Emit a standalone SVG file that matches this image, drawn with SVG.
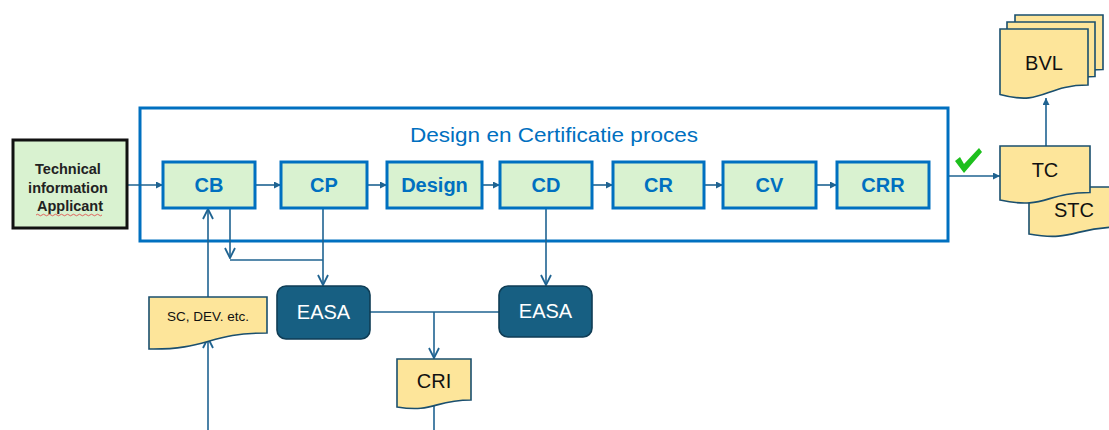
<svg xmlns="http://www.w3.org/2000/svg" width="1109" height="430" viewBox="0 0 1109 430">
<style>
.step{fill:#d9f2d0;stroke:#0070c0;stroke-width:3}
.steptxt{font-family:"Liberation Sans",Arial,sans-serif;font-weight:bold;font-size:20px;fill:#0070c0;text-anchor:middle}
.doc{fill:#fde59a;stroke:#1a4f6e;stroke-width:1.6}
.doctxt{font-family:"Liberation Sans",Arial,sans-serif;font-size:20px;fill:#111;text-anchor:middle}
.easa{fill:#175f82;stroke:#0f3d55;stroke-width:1.6}
.easatxt{font-family:"Liberation Sans",Arial,sans-serif;font-size:20px;fill:#fff;text-anchor:middle}
.ln{fill:none;stroke:#1f6391;stroke-width:1.6}
.fl{marker-end:url(#tri)}
.op{marker-end:url(#chev)}
</style>
<defs>
<marker id="tri" viewBox="0 0 10 10" refX="10" refY="5" markerWidth="7" markerHeight="7" markerUnits="userSpaceOnUse" orient="auto">
<path d="M0,0 L10,5 L0,10 Z" fill="#1f6391"/>
</marker>
<marker id="chev" viewBox="0 0 12 12" refX="11" refY="6" markerWidth="12" markerHeight="12" markerUnits="userSpaceOnUse" orient="auto">
<path d="M1,1 L11,6 L1,11" fill="none" stroke="#1f6391" stroke-width="1.8"/>
</marker>
</defs>
<rect width="1109" height="430" fill="#fff"/>

<g id="frame">
<rect x="140" y="108" width="808" height="133" fill="none" stroke="#0070c0" stroke-width="3"/>
<text x="554" y="142" font-family="Liberation Sans, Arial, sans-serif" font-size="21" fill="#0070c0" text-anchor="middle" textLength="288" lengthAdjust="spacingAndGlyphs">Design en Certificatie proces</text>
</g>

<g id="connectors">
<line class="ln fl" x1="128" y1="185" x2="163" y2="185"/>
<line class="ln fl" x1="255" y1="185" x2="281" y2="185"/>
<line class="ln fl" x1="367" y1="185" x2="387" y2="185"/>
<line class="ln fl" x1="482" y1="185" x2="500" y2="185"/>
<line class="ln fl" x1="592" y1="185" x2="613" y2="185"/>
<line class="ln fl" x1="704" y1="185" x2="723" y2="185"/>
<line class="ln fl" x1="816" y1="185" x2="837" y2="185"/>
<line class="ln fl" x1="949" y1="176" x2="1000" y2="176"/>
<line class="ln fl" x1="1046" y1="146" x2="1046" y2="98"/>
<line class="ln op" x1="208" y1="297" x2="208" y2="209"/>
<line class="ln op" x1="230" y1="208" x2="230" y2="258"/>
<line class="ln" x1="230" y1="260" x2="323" y2="260"/>
<line class="ln op" x1="323" y1="208" x2="323" y2="285"/>
<line class="ln op" x1="546" y1="208" x2="546" y2="285"/>
<line class="ln" x1="370" y1="312" x2="499" y2="312"/>
<line class="ln op" x1="434" y1="312" x2="434" y2="358"/>
<line class="ln" x1="434" y1="404" x2="434" y2="430"/>
<line class="ln op" x1="208" y1="430" x2="208" y2="338"/>
</g>

<g id="technical">
<rect x="13" y="140" width="114" height="88" fill="#d9f2d0" stroke="#111" stroke-width="3"/>
<text font-family="Liberation Sans, Arial, sans-serif" font-weight="bold" font-size="14.5" fill="#222" text-anchor="middle">
<tspan x="70" y="174">Technical</tspan>
<tspan x="70" y="193">information</tspan>
<tspan x="70" y="211">Applicant</tspan>
</text>
<path d="M36,215 q1.5,-1.5 3,0 t3,0 t3,0 t3,0 t3,0 t3,0 t3,0 t3,0 t3,0 t3,0 t3,0 t3,0 t3,0 t3,0 t3,0 t3,0 t3,0 t3,0 t3,0 t3,0 t3,0 t3,0" fill="none" stroke="#e04040" stroke-width="0.8"/>
</g>

<g id="CB"><rect class="step" x="163" y="162" width="92" height="46"/><text class="steptxt" x="209" y="192">CB</text></g>
<g id="CP"><rect class="step" x="281" y="162" width="86" height="46"/><text class="steptxt" x="324" y="192">CP</text></g>
<g id="Design"><rect class="step" x="387" y="162" width="95" height="46"/><text class="steptxt" x="434.5" y="192">Design</text></g>
<g id="CD"><rect class="step" x="500" y="162" width="92" height="46"/><text class="steptxt" x="546" y="192">CD</text></g>
<g id="CR"><rect class="step" x="613" y="162" width="91" height="46"/><text class="steptxt" x="658.5" y="192">CR</text></g>
<g id="CV"><rect class="step" x="723" y="162" width="93" height="46"/><text class="steptxt" x="769.5" y="192">CV</text></g>
<g id="CRR"><rect class="step" x="837" y="162" width="92" height="46"/><text class="steptxt" x="883" y="192">CRR</text></g>

<g id="check">
<path d="M955,161 L960,157 L964,164 L979,148 L982,152 L964,173 Z" fill="#1dbf1d"/>
</g>

<g id="STC">
<path class="doc" d="M1029,187 H1119 V227 C1074,227 1074,242 1029,234 Z"/>
<text class="doctxt" x="1074" y="217">STC</text>
</g>
<g id="TC">
<path class="doc" d="M1000,146 H1090 V192.5 C1045,192.5 1045,210 1000,200 Z"/>
<text class="doctxt" x="1045" y="177">TC</text>
</g>

<g id="BVL">
<path class="doc" d="M1015,15 H1103 V69.5 C1059,69.5 1059,90 1015,78.5 Z"/>
<path class="doc" d="M1007,22 H1095 V76.5 C1051,76.5 1051,97 1007,85.5 Z"/>
<path class="doc" d="M1000,29 H1088 V85 C1044,85 1044,106.5 1000,94.5 Z"/>
<text class="doctxt" x="1044" y="70">BVL</text>
</g>

<g id="SC">
<path class="doc" d="M149,297 H267 V333 C208,333 208,350 149,349 Z"/>
<text x="208" y="321" font-family="Liberation Sans, Arial, sans-serif" font-size="13.5" fill="#111" text-anchor="middle">SC, DEV. etc.</text>
</g>

<g id="EASA1"><rect class="easa" x="277" y="286" width="93" height="53" rx="9"/><text class="easatxt" x="323.5" y="319">EASA</text></g>
<g id="EASA2"><rect class="easa" x="499" y="286" width="93" height="51" rx="9"/><text class="easatxt" x="545.5" y="318">EASA</text></g>

<g id="CRI">
<path class="doc" d="M397,359 H471 V400 C434,400 434,413 397,407 Z"/>
<text class="doctxt" x="434" y="388">CRI</text>
</g>
</svg>
